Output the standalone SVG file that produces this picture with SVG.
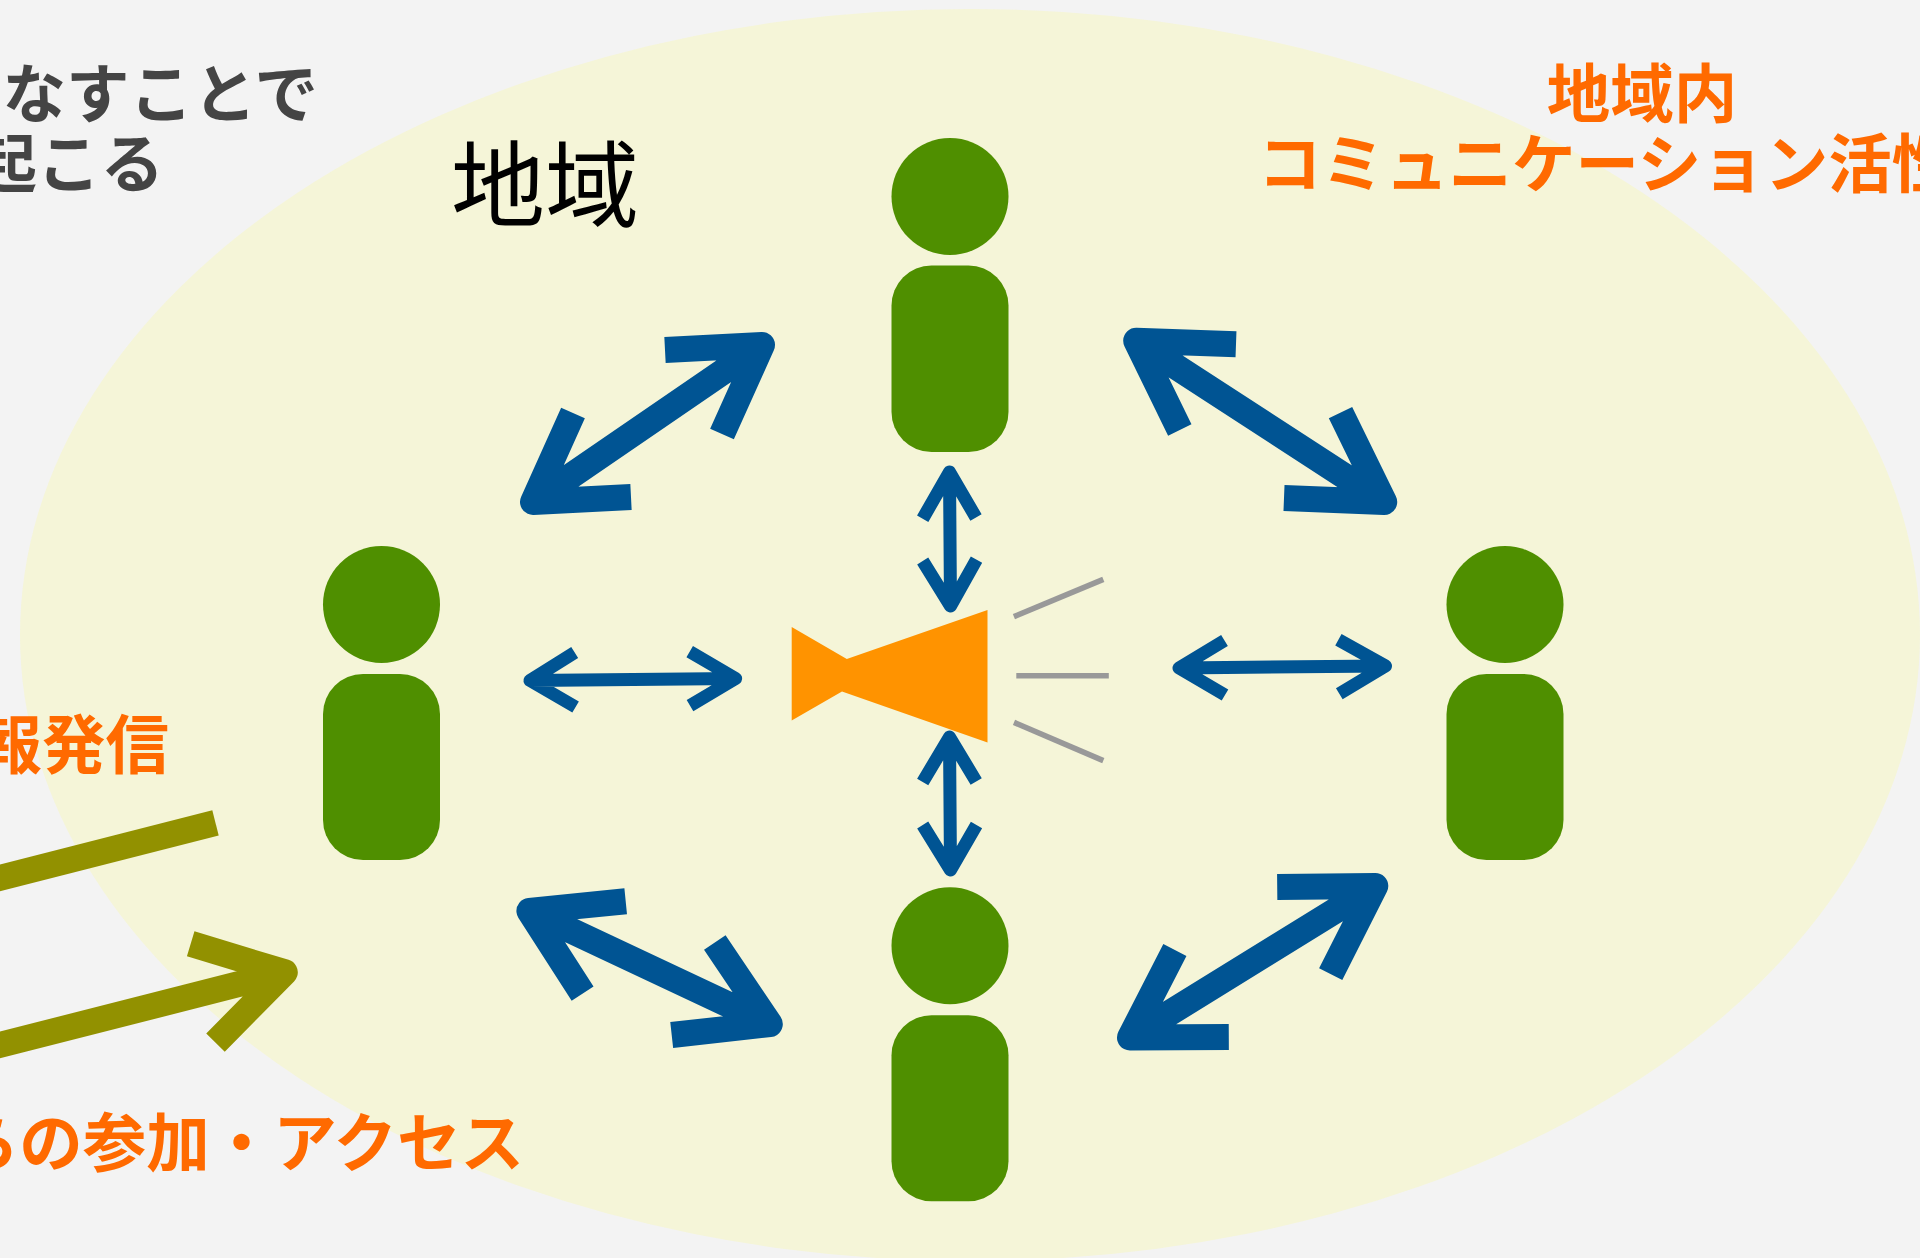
<svg xmlns="http://www.w3.org/2000/svg" width="1920" height="1258" viewBox="0 0 1920 1258">
<style>
.person{fill:#4f8f00}
.arrow{fill:none;stroke:#005493;stroke-width:26;stroke-linejoin:round;stroke-linecap:butt}
.thin{stroke-width:13}
.olive{fill:none;stroke:#929100;stroke-width:26;stroke-linejoin:round;stroke-linecap:butt}
.ray{stroke:#999;stroke-width:5.6;fill:none}
.t{font-family:"Noto Sans CJK JP","Noto Sans CJK SC",sans-serif}
.b{font-weight:700;font-size:63.5px}
.o{fill:#ff6a00}
.g{fill:#444}
</style>
<rect width="1920" height="1258" fill="#f3f3f3"/>
<ellipse id="region" cx="970" cy="635" rx="950" ry="626" fill="#f5f5d8"/>
<g id="labels">
<text class="t b g" x="318" y="117" text-anchor="end">なすことで</text>
<text class="t b g" x="164" y="187" text-anchor="end">起こる</text>
<text class="t" x="451" y="220" font-size="94" fill="#000">地域</text>
<text class="t b o" x="1642" y="117" text-anchor="middle">地域内</text>
<text class="t b o" x="1258" y="187">コミュニケーション活性</text>
<text class="t b o" x="169" y="768" text-anchor="end">報発信</text>
<text class="t b o" x="524" y="1166" text-anchor="end">らの参加・アクセス</text>
</g>
<g id="person-top" class="person"><circle cx="950" cy="196.5" r="58.5"/><rect x="891.5" y="265.5" width="117" height="186.5" rx="40"/></g>
<g id="person-left" class="person"><circle cx="381.5" cy="604.5" r="58.5"/><rect x="323" y="674" width="117" height="186" rx="40"/></g>
<g id="person-right" class="person"><circle cx="1505" cy="604.5" r="58.5"/><rect x="1446.5" y="674" width="117" height="186" rx="40"/></g>
<g id="person-bottom" class="person"><circle cx="950" cy="945.7" r="58.5"/><rect x="891.5" y="1015.3" width="117" height="186" rx="40"/></g>
<g id="speaker">
<polygon points="791.7,627 846.8,659 987.5,610 987.5,742.5 842,691.5 791.7,720.4" fill="#ff9300"/>
<line class="ray" x1="1013.9" y1="616.7" x2="1103.3" y2="579.4"/>
<line class="ray" x1="1016.3" y1="675.8" x2="1108.8" y2="675.8"/>
<line class="ray" x1="1014" y1="722.4" x2="1103.3" y2="760.6"/>
</g>
<g id="connectors">
<path class="arrow" d="M533 502L762 345M573 413L533 502L631 497M665 350L762 345L722 434"/>
<path class="arrow" d="M1136.2 340.8L1384.2 502M1236 344.3L1136.2 340.8L1179.8 430M1340.5 412.6L1384.2 502L1284 498"/>
<path class="arrow" d="M529.4 910.9L769.8 1024.1M625.7 901.2L529.4 910.9L582.6 993.6M714.8 942.6L769.8 1024.1L671.7 1035"/>
<path class="arrow" d="M1130 1037.5L1375.3 886M1277.2 887L1375.3 886L1330.7 974.1M1174.9 950L1130 1037.5L1228.8 1037"/>
<path class="arrow thin" d="M530 680.5L735.7 678.5M574.7 652.5L530 680.5L575.6 707M689.7 651.7L735.7 678.5L690 705.7"/>
<path class="arrow thin" d="M1179 668L1385.5 666M1224.5 640.5L1179 668L1225 695M1338.4 639.7L1385.5 666L1339.3 693.7"/>
<path class="arrow thin" d="M949.5 472L950.5 606M922.7 518.7L949.5 472L976 517.5M922.7 561L950.5 606L976.5 559.6"/>
<path class="arrow thin" d="M949.5 737L950.5 870M922.7 782L949.5 737L976.2 781.5M922.7 825L950.5 870L976.5 825"/>
<line class="olive" x1="215.5" y1="822.9" x2="-10" y2="880.5"/>
<path class="olive" d="M-10 1047.5L284.8 972.3M190.7 943.8L284.8 972.3L215.5 1042.6"/>
</g>
</svg>
